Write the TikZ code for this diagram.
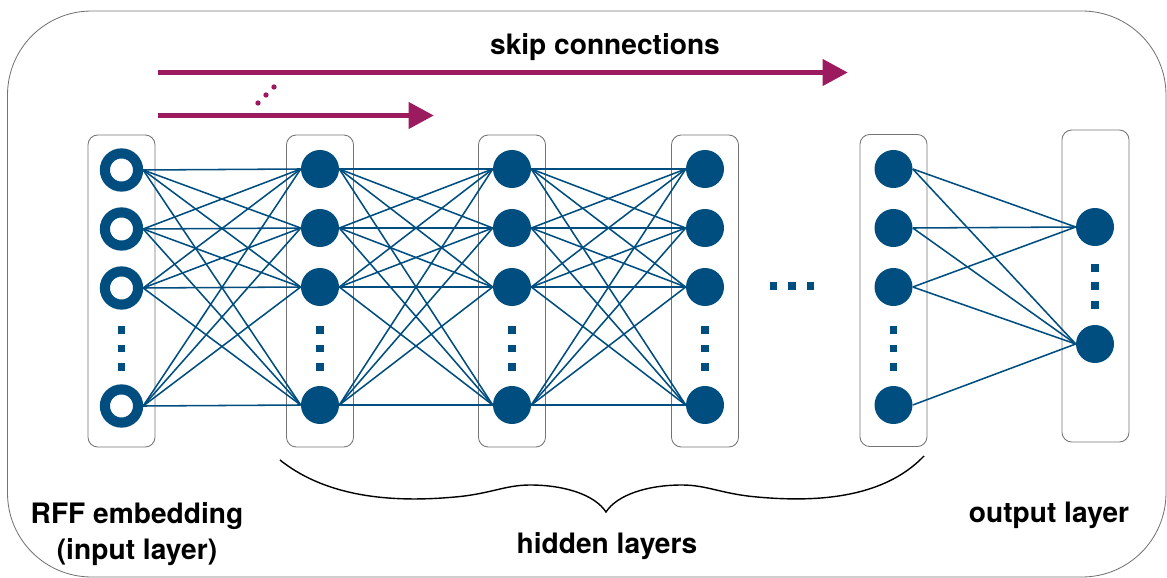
\documentclass[tikz,border=0pt]{standalone}
\usepackage{fontspec}
\setmainfont{TeX Gyre Heros}
\usetikzlibrary{positioning}
\usetikzlibrary{arrows.meta}
\definecolor{nnblue}{RGB}{0,78,128}
\definecolor{skipred}{RGB}{155,27,94}
\definecolor{boxgray}{RGB}{115,115,115}

\begin{document}
\begin{tikzpicture}[x=0.025cm,y=-0.025cm,
  inneuron/.style={circle,draw=nnblue,fill=white,line width=7.2pt,minimum size=0.83cm,inner sep=0pt},
  neuron/.style={circle,fill=nnblue,minimum size=0.95cm,inner sep=0pt},
  vdot/.style={fill=nnblue,minimum size=0.18cm,inner sep=0pt},
  layerbox/.style={draw=boxgray,line width=0.6pt,rounded corners=7pt,minimum width=1.675cm,minimum height=7.8cm,inner sep=0pt},
  wire/.style={nnblue,line width=1.1pt},
  skiparrow/.style={skipred,line width=4.2pt,-{Triangle[length=18pt,width=18pt]}},
  lbl/.style={font=\bfseries\fontsize{20}{26}\selectfont,inner sep=0pt,anchor=base}]

\useasboundingbox (0,0) rectangle (1167,578);
\draw[boxgray,line width=0.6pt,rounded corners=2.1cm] (7.5,11) rectangle (1166,577);

% layer boxes
\node[layerbox] (inbox) at (121.5,291) {};
\node[layerbox] (abox) at (320,291) {};
\node[layerbox] (bbox) at (512,291) {};
\node[layerbox] (cbox) at (705,291) {};
\node[layerbox] (dbox) at (893.5,290.5) {};
\node[layerbox] (outbox) at (1095.5,286) {};

% neurons
\foreach \y [count=\i] in {170,229,288,406}
  \node[inneuron] (i\i) at (121.5,\y) {};
\foreach \x/\l in {320/a,512/b,705/c,893.5/d}
  \foreach \y [count=\i] in {169,228,287,405}
    \node[neuron] (\l\i) at (\x,\y) {};
\node[neuron] (o1) at (1095,227) {};
\node[neuron] (o2) at (1095,344) {};

% dots
\foreach \x [count=\k] in {121.5,320,512,705,893.5}
  \foreach \y [count=\j] in {330,348.5,367}
    \node[vdot] (dot\k\j) at (\x,\y) {};
\foreach \y [count=\j] in {268,286,305}
  \node[vdot] (odot\j) at (1095,\y) {};
\foreach \x [count=\j] in {773.5,792,810.5}
  \node[vdot] (hdot\j) at (\x,286) {};

% connections
\foreach \i in {1,...,4}
  \foreach \j in {1,...,4} {
    \draw[wire] (i\i.east) -- (a\j.west);
    \draw[wire] (a\i.east) -- (b\j.west);
    \draw[wire] (b\i.east) -- (c\j.west);
  }
\foreach \i/\j in {1/1,1/2,2/1,2/2,3/1,3/2,4/2}
  \draw[wire] (d\i.east) -- (o\j.west);

% skip connections
\coordinate (s1) at (158,72.5);
\coordinate (t1) at (848,72.5);
\coordinate (s2) at (158,115.5);
\coordinate (t2) at (434,115.5);
\draw[skiparrow] (s1) -- (t1);
\draw[skiparrow] (s2) -- (t2);
\foreach \x/\y in {258/103,266/95,274/87}
  \fill[skipred] (\x,\y) circle[radius=1.9pt];

% brace
\draw[line width=1pt] (280,460) .. controls (330,500) and (400,502) .. (455,497)
  .. controls (490,494) and (505,485) .. (530,485)
  .. controls (565,485) and (595,495) .. (606,512)
  .. controls (617,495) and (647,485) .. (682,485)
  .. controls (707,485) and (722,494) .. (757,497)
  .. controls (812,502) and (882,500) .. (924,456);

% labels
\node[lbl] (skiplbl) at (605,55) {skip connections};
\node[lbl] (inlbl1) at (137,523) {RFF embedding};
\node[lbl] (inlbl2) at (137,559) {(input layer)};
\node[lbl] (hidlbl) at (607,553) {hidden layers};
\node[lbl] (outlbl) at (1049,522) {output layer};
\end{tikzpicture}
\end{document}
